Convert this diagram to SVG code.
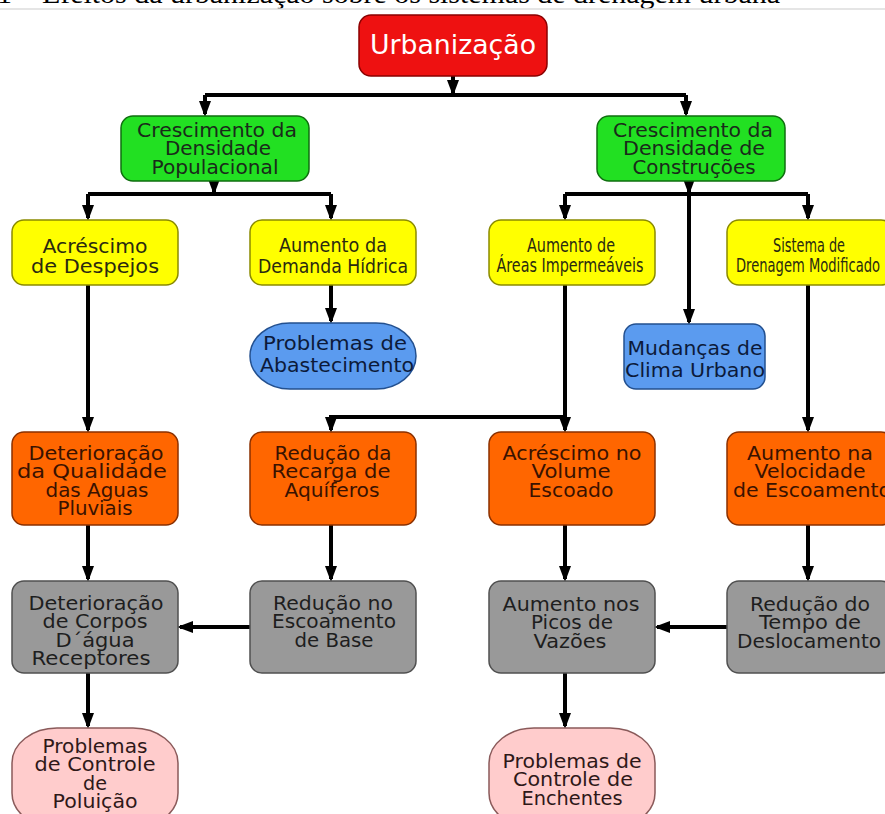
<svg xmlns="http://www.w3.org/2000/svg" width="885" height="814" viewBox="0 0 885 814">
<defs>
<marker id="arr" markerUnits="userSpaceOnUse" markerWidth="16" markerHeight="12" refX="13" refY="6" orient="auto">
<path d="M0,0 L16,6 L0,12 z" fill="#000"/>
</marker>
<style>
.n text{font-family:"DejaVu Sans","Liberation Sans",sans-serif;font-size:19px;text-anchor:middle}
.c path{fill:none;stroke:#000;stroke-width:4}
.c .a{marker-end:url(#arr)}
.red rect{fill:#ee1111;stroke:#8a0000;stroke-width:1.5}
.red text{fill:#fff;font-size:27px}
.green rect{fill:#22e022;stroke:#0f6e0f;stroke-width:1.5}
.green text{fill:#1a2a1a}
.yellow rect{fill:#ffff00;stroke:#8a8a00;stroke-width:1.5}
.yellow text{fill:#2a2a10}
.blue rect{fill:#5b9bef;stroke:#23508f;stroke-width:1.5}
.blue text{fill:#0c1a3a}
.orange rect{fill:#ff6600;stroke:#8a3000;stroke-width:1.5}
.orange text{fill:#3a1200}
.gray rect{fill:#999999;stroke:#505050;stroke-width:1.5}
.gray text{fill:#1e1e1e}
.pink rect{fill:#ffcccc;stroke:#8a5a5a;stroke-width:1.5}
.pink text{fill:#2e1818}
</style>
</defs>
<rect x="0" y="0" width="885" height="814" fill="#fff"/>
<text x="-3" y="3" font-family="Liberation Serif, serif" font-size="28" textLength="783" lengthAdjust="spacingAndGlyphs" fill="#000">1 – Efeitos da urbanização sobre os sistemas de drenagem urbana</text>
<line x1="0" y1="9" x2="885" y2="9" stroke="#dcdcdc" stroke-width="1.5"/>

<g id="connectors" class="c">
<path class="a" d="M453,76 V93"/>
<path d="M205,95 H686"/>
<path class="a" d="M205,95 V114"/>
<path class="a" d="M686,95 V114"/>
<path class="a" d="M214,181 V192"/>
<path d="M88,194 H331"/>
<path class="a" d="M88,194 V218"/>
<path class="a" d="M331,194 V218"/>
<path class="a" d="M689,181 V192"/>
<path d="M565,194 H808"/>
<path class="a" d="M565,194 V218"/>
<path class="a" d="M808,194 V218"/>
<path class="a" d="M689,194 V322"/>
<path class="a" d="M88,285 V430"/>
<path class="a" d="M331,285 V321"/>
<path class="a" d="M565,285 V430"/>
<path class="a" d="M565,417 H331 V430"/>
<path class="a" d="M808,285 V430"/>
<path class="a" d="M88,525 V579"/>
<path class="a" d="M331,525 V579"/>
<path class="a" d="M565,525 V579"/>
<path class="a" d="M808,525 V579"/>
<path class="a" d="M250,627 H180"/>
<path class="a" d="M727,627 H657"/>
<path class="a" d="M88,673 V726"/>
<path class="a" d="M565,673 V726"/>
</g>

<g id="urbanizacao" class="n red">
<rect x="359" y="15" width="188" height="61" rx="12"/>
<text x="453" y="54" textLength="166" lengthAdjust="spacingAndGlyphs">Urbanização</text>
</g>

<g id="crescimento-populacional" class="n green">
<rect x="121" y="116" width="188" height="65" rx="12"/>
<text x="217" y="137" textLength="160" lengthAdjust="spacingAndGlyphs">Crescimento da</text>
<text x="218" y="155" textLength="106" lengthAdjust="spacingAndGlyphs">Densidade</text>
<text x="215" y="174" textLength="127" lengthAdjust="spacingAndGlyphs">Populacional</text>
</g>

<g id="crescimento-construcoes" class="n green">
<rect x="597" y="116" width="188" height="65" rx="12"/>
<text x="693" y="137" textLength="160" lengthAdjust="spacingAndGlyphs">Crescimento da</text>
<text x="694" y="155" textLength="142" lengthAdjust="spacingAndGlyphs">Densidade de</text>
<text x="694" y="174" textLength="123" lengthAdjust="spacingAndGlyphs">Construções</text>
</g>

<g id="acrescimo-despejos" class="n yellow">
<rect x="12" y="220" width="166" height="65" rx="12"/>
<text x="95" y="253" textLength="105" lengthAdjust="spacingAndGlyphs">Acréscimo</text>
<text x="95" y="273" textLength="128" lengthAdjust="spacingAndGlyphs">de Despejos</text>
</g>

<g id="aumento-demanda" class="n yellow">
<rect x="250" y="220" width="166" height="65" rx="12"/>
<text x="333" y="252" textLength="108" lengthAdjust="spacingAndGlyphs">Aumento da</text>
<text x="333" y="273" textLength="150" lengthAdjust="spacingAndGlyphs">Demanda Hídrica</text>
</g>

<g id="aumento-areas" class="n yellow">
<rect x="489" y="220" width="166" height="65" rx="12"/>
<text x="571" y="252" textLength="88" lengthAdjust="spacingAndGlyphs">Aumento de</text>
<text x="570" y="272" textLength="147" lengthAdjust="spacingAndGlyphs">Áreas Impermeáveis</text>
</g>

<g id="sistema-drenagem" class="n yellow">
<rect x="727" y="220" width="166" height="65" rx="12"/>
<text x="809" y="252" textLength="72" lengthAdjust="spacingAndGlyphs">Sistema de</text>
<text x="808" y="272" textLength="144" lengthAdjust="spacingAndGlyphs">Drenagem Modificado</text>
</g>

<g id="problemas-abastecimento" class="n blue">
<rect x="250" y="323" width="166" height="66" rx="40" ry="33"/>
<text x="335" y="350" textLength="144" lengthAdjust="spacingAndGlyphs">Problemas de</text>
<text x="337" y="372" textLength="154" lengthAdjust="spacingAndGlyphs">Abastecimento</text>
</g>

<g id="mudancas-clima" class="n blue">
<rect x="624" y="324" width="141" height="65" rx="12"/>
<text x="695" y="355" textLength="135" lengthAdjust="spacingAndGlyphs">Mudanças de</text>
<text x="695" y="377" textLength="140" lengthAdjust="spacingAndGlyphs">Clima Urbano</text>
</g>

<g id="deterioracao-qualidade" class="n orange">
<rect x="12" y="432" width="166" height="93" rx="12"/>
<text x="96" y="460" textLength="135" lengthAdjust="spacingAndGlyphs">Deterioração</text>
<text x="92" y="478" textLength="150" lengthAdjust="spacingAndGlyphs">da Qualidade</text>
<text x="97" y="497" textLength="103" lengthAdjust="spacingAndGlyphs">das Aguas</text>
<text x="95" y="515" textLength="75" lengthAdjust="spacingAndGlyphs">Pluviais</text>
</g>

<g id="reducao-recarga" class="n orange">
<rect x="250" y="432" width="166" height="93" rx="12"/>
<text x="333" y="460" textLength="117" lengthAdjust="spacingAndGlyphs">Redução da</text>
<text x="331" y="478" textLength="119" lengthAdjust="spacingAndGlyphs">Recarga de</text>
<text x="332" y="497" textLength="95" lengthAdjust="spacingAndGlyphs">Aquíferos</text>
</g>

<g id="acrescimo-volume" class="n orange">
<rect x="489" y="432" width="166" height="93" rx="12"/>
<text x="572" y="460" textLength="139" lengthAdjust="spacingAndGlyphs">Acréscimo no</text>
<text x="571" y="478" textLength="79" lengthAdjust="spacingAndGlyphs">Volume</text>
<text x="571" y="497" textLength="85" lengthAdjust="spacingAndGlyphs">Escoado</text>
</g>

<g id="aumento-velocidade" class="n orange">
<rect x="727" y="432" width="166" height="93" rx="12"/>
<text x="810" y="460" textLength="126" lengthAdjust="spacingAndGlyphs">Aumento na</text>
<text x="810" y="478" textLength="111" lengthAdjust="spacingAndGlyphs">Velocidade</text>
<text x="812" y="497" textLength="158" lengthAdjust="spacingAndGlyphs">de Escoamento</text>
</g>

<g id="deterioracao-corpos" class="n gray">
<rect x="12" y="581" width="166" height="92" rx="12"/>
<text x="96" y="610" textLength="135" lengthAdjust="spacingAndGlyphs">Deterioração</text>
<text x="95" y="628" textLength="105" lengthAdjust="spacingAndGlyphs">de Corpos</text>
<text x="95" y="647" textLength="79" lengthAdjust="spacingAndGlyphs">D´água</text>
<text x="91" y="665" textLength="119" lengthAdjust="spacingAndGlyphs">Receptores</text>
</g>

<g id="reducao-escoamento-base" class="n gray">
<rect x="250" y="581" width="166" height="92" rx="12"/>
<text x="333" y="610" textLength="120" lengthAdjust="spacingAndGlyphs">Redução no</text>
<text x="334" y="628" textLength="124" lengthAdjust="spacingAndGlyphs">Escoamento</text>
<text x="334" y="647" textLength="79" lengthAdjust="spacingAndGlyphs">de Base</text>
</g>

<g id="aumento-picos" class="n gray">
<rect x="489" y="581" width="166" height="92" rx="12"/>
<text x="571" y="611" textLength="137" lengthAdjust="spacingAndGlyphs">Aumento nos</text>
<text x="572" y="629" textLength="82" lengthAdjust="spacingAndGlyphs">Picos de</text>
<text x="570" y="648" textLength="73" lengthAdjust="spacingAndGlyphs">Vazões</text>
</g>

<g id="reducao-tempo" class="n gray">
<rect x="727" y="581" width="166" height="92" rx="12"/>
<text x="810" y="611" textLength="120" lengthAdjust="spacingAndGlyphs">Redução do</text>
<text x="810" y="629" textLength="102" lengthAdjust="spacingAndGlyphs">Tempo de</text>
<text x="809" y="648" textLength="144" lengthAdjust="spacingAndGlyphs">Deslocamento</text>
</g>

<g id="problemas-poluicao" class="n pink">
<rect x="12" y="728" width="166" height="100" rx="45" ry="35"/>
<text x="95" y="753" textLength="105" lengthAdjust="spacingAndGlyphs">Problemas</text>
<text x="95" y="771" textLength="121" lengthAdjust="spacingAndGlyphs">de Controle</text>
<text x="95" y="790" textLength="24" lengthAdjust="spacingAndGlyphs">de</text>
<text x="95" y="808" textLength="85" lengthAdjust="spacingAndGlyphs">Poluição</text>
</g>

<g id="problemas-enchentes" class="n pink">
<rect x="489" y="728" width="166" height="100" rx="45" ry="35"/>
<text x="572" y="768" textLength="139" lengthAdjust="spacingAndGlyphs">Problemas de</text>
<text x="573" y="786" textLength="120" lengthAdjust="spacingAndGlyphs">Controle de</text>
<text x="572" y="805" textLength="101" lengthAdjust="spacingAndGlyphs">Enchentes</text>
</g>
</svg>
